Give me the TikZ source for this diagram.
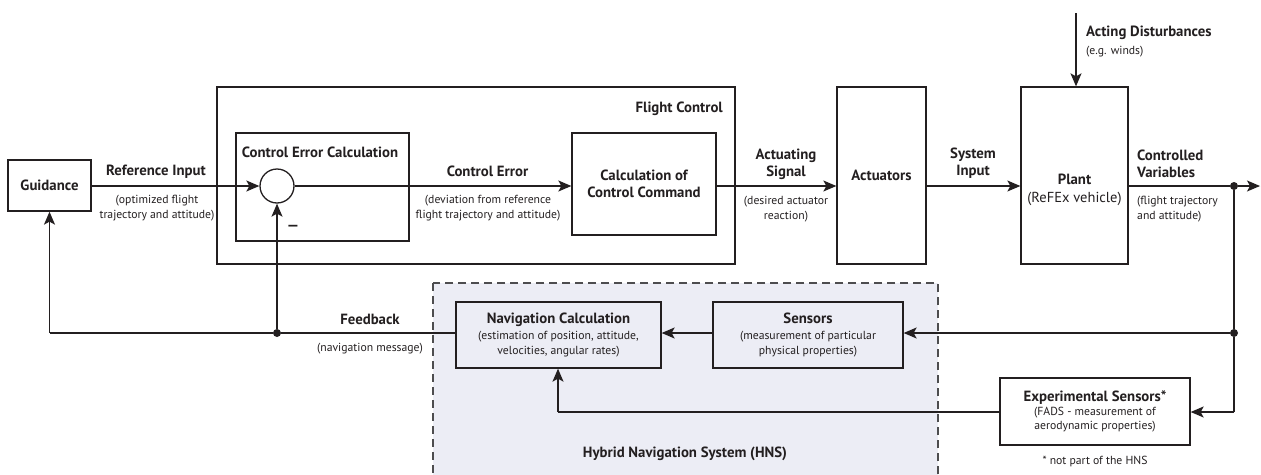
\documentclass[tikz,border=0pt]{standalone}
\usepackage{fontspec}
\setmainfont{PT Sans}
\usetikzlibrary{arrows.meta}
\definecolor{ink}{HTML}{231F20}
\definecolor{hnsfill}{HTML}{ECEDF5}
\definecolor{hnsline}{HTML}{4D4D4F}
\tikzset{
  blk/.style={draw=ink,line width=1.3pt,inner sep=0pt,align=center,text=ink},
  lbl/.style={font=\bfseries\fontsize{14.8}{17}\selectfont,text=ink,align=center,inner sep=0pt},
  sublbl/.style={font=\fontsize{11.7}{15.5}\selectfont,text=ink,align=center,inner sep=0pt},
  sig/.style={draw=ink,line width=1.3pt,-{Stealth[length=13pt,width=11pt,inset=3pt]}},
  ln/.style={draw=ink,line width=1.3pt},
  junct/.style={circle,fill=ink,minimum size=8pt,inner sep=0pt}
}
\begin{document}
\begin{tikzpicture}[x=1pt,y=-1pt]
\useasboundingbox (0,0) rectangle (1261,474);
% HNS background
\begin{scope}
\clip (0,0) rectangle (1261,474);
\draw[hnsline,fill=hnsfill,line width=1.2pt,dash pattern=on 8pt off 5pt] (433,283) rectangle (938,490);
\end{scope}
% blocks
\node[blk,minimum width=83pt,minimum height=51pt,font=\bfseries\fontsize{14.8}{17}\selectfont] (guid) at (49.5,185.5) {Guidance};
\node[blk,minimum width=518pt,minimum height=177pt] (fc) at (476,175.5) {};
\node[blk,minimum width=173pt,minimum height=108pt] (cec) at (322.5,187) {};
\node[blk,circle,minimum size=34pt] (sum) at (277,186) {};
\node[blk,minimum width=144pt,minimum height=102pt,font=\bfseries\fontsize{14.8}{17}\selectfont] (ccc) at (644,184) {Calculation of\\Control Command};
\node[blk,minimum width=89pt,minimum height=177pt,font=\bfseries\fontsize{14.8}{17}\selectfont] (act) at (881.5,175.5) {Actuators};
\node[blk,minimum width=107pt,minimum height=177pt] (plant) at (1074.5,175.5) {};
\node[inner sep=0pt,align=center,text=ink,font=\fontsize{14.5}{18}\selectfont] (plantlbl) at (1074.5,190) {\textbf{\fontsize{14.8}{18}\selectfont Plant}\\(ReFEx vehicle)};
\node[blk,minimum width=205pt,minimum height=66pt,font=\fontsize{11.7}{15.5}\selectfont] (nav) at (558.5,335) {{\bfseries\fontsize{14.8}{15}\selectfont Navigation Calculation}\\(estimation of position, attitude,\\velocities, angular rates)};
\node[blk,minimum width=190pt,minimum height=66pt,font=\fontsize{11.7}{15.5}\selectfont] (sens) at (808,335) {{\bfseries\fontsize{14.8}{15}\selectfont Sensors}\\(measurement of particular\\physical properties)};
\node[blk,minimum width=190pt,minimum height=67pt,font=\fontsize{11.7}{14}\selectfont] (exps) at (1095,411.5) {{\bfseries\fontsize{14.8}{15}\selectfont Experimental Sensors*}\\(FADS - measurement of\\aerodynamic properties)};
% minus sign
\node[inner sep=0pt,text=ink,font=\bfseries\fontsize{15}{15}\selectfont] (minus) at (293,228) {—};
% junctions and free ends
\node[junct] (j1) at (1234,186) {};
\node[junct] (j2) at (1234,333) {};
\node[junct] (j3) at (277,333) {};
\coordinate (outend) at (1260,186);
\coordinate (distin) at (1076,13);
\coordinate (fbcorner) at (49.5,333);
\coordinate (excorner) at (1234,412);
\coordinate (navcorner) at (558,412);
% signal lines
\draw[sig] (guid.east |- sum.west) -- (sum.west);
\draw[sig] (sum.east) -- (sum.east -| ccc.west);
\draw[sig] (ccc.east |- sum.east) -- (sum.east -| act.west);
\draw[sig] (act.east |- sum.east) -- (sum.east -| plant.west);
\draw[ln] (plant.east |- j1) -- (j1);
\draw[sig] (j1) -- (outend);
\draw[sig] (distin) -- (distin |- plant.north);
\draw[ln] (j1) -- (j2);
\draw[sig] (j2) -- (j2 -| sens.east);
\draw[sig] (j2 -| sens.west) -- (j2 -| nav.east);
\draw[ln] (j2 -| nav.west) -- (j3);
\draw[ln] (j3) -- (fbcorner);
\draw[sig] (fbcorner) -- (guid.south);
\draw[sig] (j3) -- (sum.south);
\draw[ln] (j2) -- (excorner);
\draw[sig] (excorner) -- (excorner -| exps.east);
\draw[ln] (excorner -| exps.west) -- (navcorner);
\draw[sig] (navcorner) -- (navcorner |- nav.south);
% labels
\node[lbl] (refin) at (156,172) {Reference Input};
\node[sublbl] (refsub) at (157,208) {(optimized flight\\trajectory and attitude)};
\node[lbl] (ceclbl) at (320,152) {Control Error Calculation};
\node[lbl,anchor=east] (fclbl) at (723,109) {Flight Control};
\node[lbl] (celbl) at (487.5,171) {Control Error};
\node[sublbl] (cesub) at (488,208) {(deviation from reference\\flight trajectory and attitude)};
\node[lbl] (aslbl) at (786,164.5) {Actuating\\Signal};
\node[sublbl] (assub) at (786,209) {(desired actuator\\reaction)};
\node[lbl] (silbl) at (973,163.5) {System\\Input};
\node[lbl,anchor=west,align=left] (cvlbl) at (1137,163.5) {Controlled\\Variables};
\node[sublbl,anchor=west,align=left] (cvsub) at (1137,209) {(flight trajectory\\and attitude)};
\node[lbl,anchor=west] (adlbl) at (1086,33) {Acting Disturbances};
\node[sublbl,anchor=west] (adsub) at (1086,52) {(e.g. winds)};
\node[lbl] (fblbl) at (370,319) {Feedback};
\node[sublbl] (fbsub) at (370,349) {(navigation message)};
\node[lbl] (hnslbl) at (685,454) {Hybrid Navigation System (HNS)};
\node[sublbl] (note) at (1095,461) {* not part of the HNS};
\end{tikzpicture}
\end{document}
